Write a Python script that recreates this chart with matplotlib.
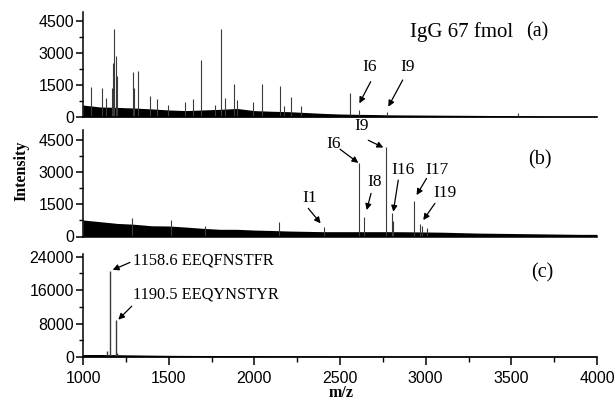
import matplotlib
matplotlib.use("Agg")
import matplotlib.pyplot as plt
from matplotlib.ticker import MultipleLocator

# ---------------- data ----------------
env_mz = [1000, 1100, 1200, 1300, 1400, 1500, 1600, 1700, 1800, 1900, 2000,
          2100, 2200, 2300, 2400, 2500, 2600, 2700, 2800, 2900, 3000,
          3100, 3200, 3300, 3400, 3500, 3600, 3700, 3800, 3900, 4000]
env_a = [560, 470, 450, 420, 380, 330, 300, 330, 360, 400, 300,
         270, 250, 210, 170, 140, 125, 115, 100, 95, 90,
         85, 80, 75, 70, 65, 60, 55, 50, 50, 45]
env_b = [770, 690, 610, 570, 500, 490, 440, 380, 335, 335, 300,
         280, 255, 240, 225, 225, 225, 225, 225, 220, 210,
         200, 180, 160, 150, 140, 130, 120, 110, 100, 100]
env_c = [600, 600, 550, 500, 450, 400, 380, 360, 350, 340, 330,
         320, 310, 300, 300, 290, 290, 280, 280, 270, 270,
         260, 260, 260, 250, 250, 250, 250, 250, 250, 250]

peaks_a_mz = [1047, 1109, 1134, 1171, 1177, 1183, 1194, 1201, 1294, 1300, 1323,
              1391, 1430, 1498, 1595, 1640, 1687, 1770, 1807, 1829, 1883, 1897,
              1994, 2047, 2150, 2173, 2216, 2272, 2558, 2613, 2773, 3541]
peaks_a_int = [1420, 1375, 890, 1360, 2530, 4125, 2860, 1900, 2125, 1350, 2170,
               985, 830, 560, 720, 845, 2670, 560, 4125, 890, 1530, 800,
               720, 1530, 1450, 515, 920, 530, 1120, 330, 220, 200]

peaks_b_mz = [1284, 1512, 1712, 2144, 2409, 2611, 2642, 2769, 2801, 2811,
              2932, 2967, 2979, 3006]
peaks_b_int = [845, 770, 500, 690, 455, 3430, 920, 4175, 1080, 700,
               1650, 570, 500, 400]

peaks_c_mz = [1140, 1158.6, 1190.5, 1196]
peaks_c_int = [1500, 20660, 8900, 1000]

# annotations: label, text pos, arrow start, arrow tip
ann_a = [("I6", (2675, 2358), (2679, 1655), (2613, 640)),
         ("I9", (2893, 2358), (2866, 1734), (2782, 483))]
ann_b = [("I1", (2325, 1776), (2315, 1311), (2387, 614)),
         ("I6", (2461, 4334), (2500, 4069), (2607, 3432)),
         ("I8", (2704, 2548), (2681, 2009), (2656, 1232)),
         ("I9", (2626, 5138), (2665, 4487), (2753, 4148)),
         ("I16", (2870, 3092), (2840, 2627), (2811, 1153)),
         ("I17", (3064, 3092), (3005, 2706), (2947, 1930)),
         ("I19", (3113, 2009), (3054, 1544), (2986, 767))]
ann_c = [("1158.6 EEQFNSTFR", (1294, 23015), (1274, 22630), (1173, 20840)),
         ("1190.5 EEQYNSTYR", (1294, 14973), (1284, 12147), (1206, 8935))]

W, H = 616, 405
fig = plt.figure(figsize=(W / 100, H / 100), dpi=100)

left = 83 / W
width = 514 / W
serif = "Liberation Serif"
sans = "Liberation Sans"


def make_ax(y0_px, h_px, ymax, major, minor, show_x):
    ax = fig.add_axes([left, 1 - y0_px / H, width, h_px / H])
    ax.set_xlim(1000, 4000)
    ax.set_ylim(0, ymax)
    for s in ("top", "right"):
        ax.spines[s].set_visible(False)
    for s in ("left", "bottom"):
        ax.spines[s].set_linewidth(1.1)
    ax.yaxis.set_major_locator(MultipleLocator(major))
    ax.yaxis.set_minor_locator(MultipleLocator(minor))
    ax.xaxis.set_major_locator(MultipleLocator(500))
    ax.xaxis.set_minor_locator(MultipleLocator(250))
    ax.tick_params(axis="y", which="major", direction="out", length=5, width=1.1,
                   labelsize=11.5, pad=1.5)
    ax.tick_params(axis="y", which="minor", direction="out", length=3, width=1.0)
    if show_x:
        ax.tick_params(axis="x", which="major", direction="out", length=6, width=1.1,
                       labelsize=11.5, pad=4)
        ax.tick_params(axis="x", which="minor", direction="out", length=3.5, width=1.0)
    else:
        ax.tick_params(axis="x", which="both", bottom=False, labelbottom=False)
    for lab in ax.get_xticklabels() + ax.get_yticklabels():
        lab.set_fontfamily(sans)
    ax.patch.set_alpha(0)
    return ax


def draw(ax, env, pmz, pint, lw=0.8):
    ax.fill_between(env_mz, 0, env, color="black", lw=0)
    ax.vlines(pmz, 0, pint, color="#3a3a3a", lw=lw)


def annotate(ax, anns, ha="center", fs=12.5):
    for lab, tpos, start, tip in anns:
        ax.text(tpos[0], tpos[1], lab, ha=ha, va="center", fontsize=fs,
                family=serif, clip_on=False)
        ax.annotate("", xy=tip, xytext=start,
                    arrowprops=dict(arrowstyle="-|>", color="black", lw=0.9,
                                    mutation_scale=9, shrinkA=0, shrinkB=0),
                    annotation_clip=False)


ax_a = make_ax(117, 105, 4922, 1500, 750, False)
ax_b = make_ax(236.5, 106.5, 4965, 1500, 750, False)
ax_c = make_ax(357, 103, 24650, 8000, 4000, True)

draw(ax_a, env_a, peaks_a_mz, peaks_a_int)
draw(ax_b, env_b, peaks_b_mz, peaks_b_int)
draw(ax_c, env_c, peaks_c_mz, peaks_c_int, lw=1.0)

annotate(ax_a, ann_a)
annotate(ax_b, ann_b)
annotate(ax_c, ann_c, ha="left", fs=11.8)

ax_a.text(2909, 3984, "IgG 67 fmol", ha="left", va="center", fontsize=15, family=serif)
ax_a.text(3653, 3984, "(a)", ha="center", va="center", fontsize=14.5, family=serif)
ax_b.text(3667, 3590, "(b)", ha="center", va="center", fontsize=14.5, family=serif)
ax_c.text(3681, 20214, "(c)", ha="center", va="center", fontsize=14.5, family=serif)

fig.text(21.7 / W, 1 - 170.5 / H, "Intensity", rotation=90, ha="center", va="center",
         fontsize=11.5, fontweight="bold", family=serif)
fig.text(341 / W, 1 - 393 / H, "m/z", ha="center", va="center",
         fontsize=11.5, fontweight="bold", family=serif)

fig.savefig("out.png", dpi=100)
